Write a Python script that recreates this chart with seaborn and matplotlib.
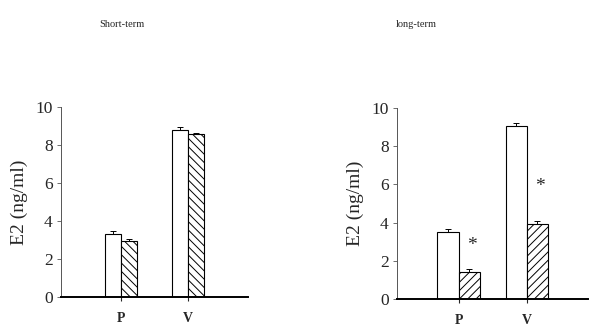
import pandas as pd
import matplotlib
matplotlib.use("Agg")
import matplotlib.pyplot as plt
import seaborn as sns

# values
groups = ["P", "V"]
treatments = ["control", "treated"]
short_vals = [3.3, 2.95, 8.8, 8.55]
short_err = [0.15, 0.12, 0.15, 0.1]
long_vals = [3.5, 1.4, 9.05, 3.95]
long_err = [0.18, 0.15, 0.15, 0.15]
star_vals = [2.8, 5.9]  # height of the asterisks in the long-term panel

sns.set_style("white")
plt.rcParams["font.family"] = ["Liberation Serif", "DejaVu Serif"]
plt.rcParams["hatch.linewidth"] = 0.7


def make_df(vals, errs):
    rows = []
    k = 0
    for g in groups:
        for t in treatments:
            rows.append({"group": g, "treat": t, "E2": vals[k], "err": errs[k]})
            k += 1
    return pd.DataFrame(rows)


df_short = make_df(short_vals, short_err)
df_long = make_df(long_vals, long_err)

fig = plt.figure(figsize=(5.99, 3.36), dpi=100)
ax1 = fig.add_axes([0.102, 0.116, 0.312, 0.566])
ax2 = fig.add_axes([0.663, 0.110, 0.319, 0.569])


def draw_panel(ax, df, width, hatch):
    sns.barplot(data=df, x="group", y="E2", hue="treat", order=groups,
                hue_order=treatments, palette=["white", "white"],
                edgecolor="black", linewidth=0.8, width=width, gap=0,
                errorbar=None, legend=False, ax=ax)
    bars = [p for p in ax.patches if p.get_height() > 0]
    bars = sorted(bars, key=lambda p: p.get_x())
    for i, p in enumerate(bars):
        if i % 2 == 1:
            p.set_hatch(hatch)
        cx = p.get_x() + p.get_width() / 2
        e = df["err"].iloc[i]
        ax.errorbar(cx, p.get_height(), yerr=[[0], [e]], color="black",
                    lw=0.7, capsize=2, capthick=0.7)
    ax.set_xlim(-0.9, 1.9)
    ax.set_ylim(0, 10)
    ax.set_yticks([0, 2, 4, 6, 8, 10])
    ax.set_xlabel("")
    ax.set_ylabel("E2 (ng/ml)", fontsize=14, labelpad=5)
    ax.tick_params(axis="y", labelsize=12.5, length=3, width=0.6, color="#555555", pad=3, left=True)
    ax.tick_params(axis="x", labelsize=10, length=3, width=0.8, pad=8, bottom=True)
    for lbl in ax.get_xticklabels():
        lbl.set_fontweight("bold")
    sns.despine(ax=ax)
    ax.spines["left"].set_linewidth(0.7)
    ax.spines["left"].set_color("#555555")
    ax.spines["bottom"].set_linewidth(1.4)
    ax.spines["bottom"].set_color("black")
    return bars


draw_panel(ax1, df_short, 0.48, "\\\\\\\\")
bars2 = draw_panel(ax2, df_long, 0.62, "////")

# significance marks over the treated bars
for i, sv in enumerate(star_vals):
    p = bars2[2 * i + 1]
    ax2.text(p.get_x() + p.get_width() / 2 + 0.04, sv, "*", ha="center",
             va="center", fontsize=14)

fig.text(0.204, 0.928, "Short-term", ha="center", va="center", fontsize=7.5)
fig.text(0.695, 0.928, "long-term", ha="center", va="center", fontsize=7.5)

fig.savefig("out.png", dpi=100)
